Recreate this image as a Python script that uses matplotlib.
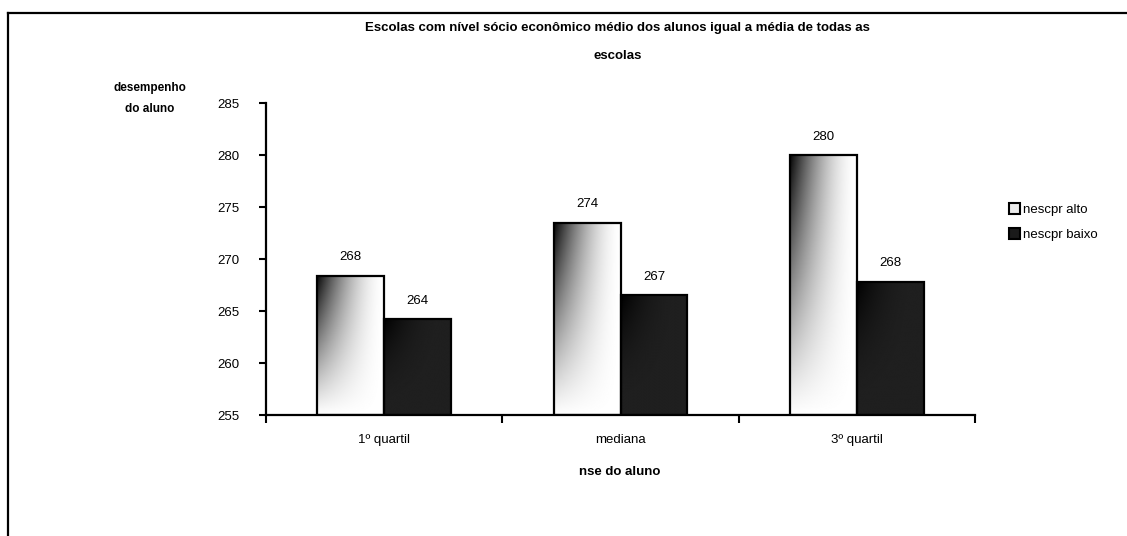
import numpy as np
import matplotlib
matplotlib.use("Agg")
import matplotlib.pyplot as plt
from matplotlib.patches import Rectangle
from matplotlib.lines import Line2D

plt.rcParams['font.family'] = ['Liberation Sans', 'DejaVu Sans']

# data
categories = ['1º quartil', 'mediana', '3º quartil']
series_names = ['nescpr alto', 'nescpr baixo']
alto = [268.4, 273.5, 280.0]
baixo = [264.2, 266.5, 267.8]
alto_labels = ['268', '274', '280']
baixo_labels = ['264', '267', '268']

fig = plt.figure(figsize=(11.27, 5.36), dpi=100)
ax = fig.add_axes([266 / 1127, 1 - 415 / 536, (975 - 266) / 1127, (415 - 103) / 536])

ymin, ymax = 255, 285
width = 0.283
x = np.arange(len(categories))

# gradient fills (dark top-left corner fading out)
n = 200
u, v = np.meshgrid(np.linspace(0, 1, n), np.linspace(0, 1, n))
light = 1 - (1 - u) ** 1.7 * (1 - v) ** 1.05
light = np.clip(light * 0.98 + 0.02, 0, 1)
dark = 0.125 * (1 - (1 - u) ** 2.5 * (1 - v) ** 2.0)


def grad_bar(xl, top, img):
    bar = ax.bar(xl, top - ymin, width, bottom=ymin, align='edge',
                 facecolor='none', edgecolor='black', linewidth=1.6, zorder=3)[0]
    im = ax.imshow(img, cmap='gray', vmin=0, vmax=1, aspect='auto',
                   extent=[xl, xl + width, ymin, top], origin='upper',
                   interpolation='bilinear', zorder=2)
    im.set_clip_path(bar)
    return bar


for i in range(len(categories)):
    grad_bar(x[i] - width, alto[i], light)
    grad_bar(x[i], baixo[i], dark)
    ax.text(x[i] - width / 2, alto[i] + 1.2, alto_labels[i], ha='center', va='bottom', fontsize=9.5)
    ax.text(x[i] + width / 2, baixo[i] + 1.2, baixo_labels[i], ha='center', va='bottom', fontsize=9.5)

ax.set_xlim(-0.5, len(categories) - 0.5)
ax.set_ylim(ymin, ymax)
ax.set_yticks(np.arange(255, 286, 5))
ax.set_xticks(np.arange(-0.5, len(categories), 1))
ax.set_xticklabels([])
ax.set_xticks(x, minor=True)
ax.set_xticklabels(categories, minor=True, fontsize=9.5)
ax.tick_params(axis='x', which='minor', length=0, pad=14)
ax.tick_params(axis='x', which='major', length=6, width=1.5, direction='out')
ax.tick_params(axis='y', length=5, width=1.5, direction='out', labelsize=9.5, pad=14)
for s in ['top', 'right']:
    ax.spines[s].set_visible(False)
for s in ['left', 'bottom']:
    ax.spines[s].set_linewidth(1.6)

fig.text(0.548, 1 - 28 / 536, 'Escolas com nível sócio econômico médio dos alunos igual a média de todas as',
         ha='center', va='center', fontsize=9.5, fontweight='bold')
fig.text(0.548, 1 - 56 / 536, 'escolas', ha='center', va='center', fontsize=9.5, fontweight='bold')
fig.text(150 / 1127, 1 - 88 / 536, 'desempenho', ha='center', va='center', fontsize=8.5, fontweight='bold')
fig.text(150 / 1127, 1 - 109 / 536, 'do aluno', ha='center', va='center', fontsize=8.5, fontweight='bold')
fig.text(620 / 1127, 1 - 472 / 536, 'nse do aluno', ha='center', va='center', fontsize=9.5, fontweight='bold')

# legend
legend_handles = [Rectangle((0, 0), 1, 1, facecolor='#ececec', edgecolor='black', linewidth=1.5),
                  Rectangle((0, 0), 1, 1, facecolor='#1a1a1a', edgecolor='black', linewidth=1.5)]
fig.legend(legend_handles, series_names, loc='center left', bbox_to_anchor=(1002 / 1127, 1 - 222 / 536),
           frameon=False, fontsize=9.5, handlelength=0.9, handleheight=0.9, handletextpad=0.2,
           labelspacing=0.9, borderpad=0)

# outer frame
fig.add_artist(Line2D([8 / 1127, 8 / 1127], [0, 1 - 13 / 536], color='black', linewidth=1.6))
fig.add_artist(Line2D([8 / 1127, 1], [1 - 13 / 536, 1 - 13 / 536], color='black', linewidth=1.6))

fig.savefig('out.png', dpi=100)
